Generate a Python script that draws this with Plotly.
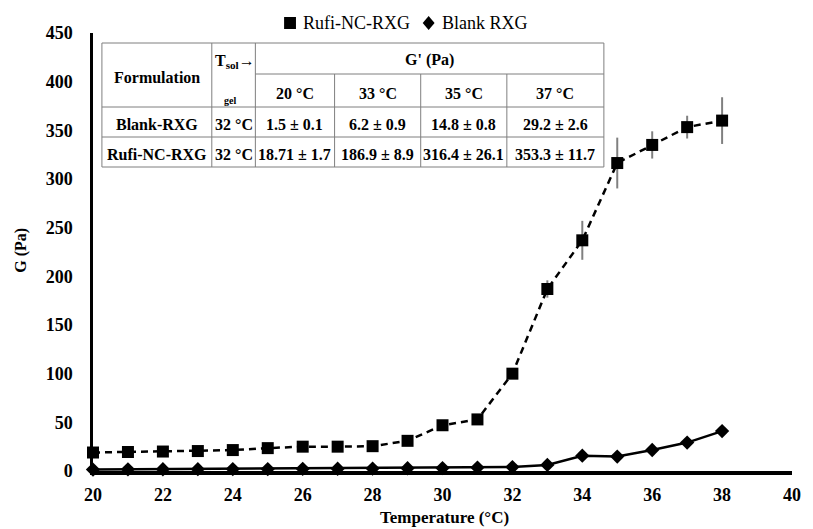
import plotly.graph_objects as go

# ---------------- data ----------------
temps = [20, 21, 22, 23, 24, 25, 26, 27, 28, 29, 30, 31, 32, 33, 34, 35, 36, 37, 38]
rufi = [19, 19.5, 20, 20.5, 21.5, 23.5, 25, 25, 25.5, 31, 47, 53, 100, 187, 237, 316.4, 335, 353.3, 360]
rufi_err = [1.7, 1, 1, 1, 1, 1.5, 1.5, 1.5, 1.5, 2, 3, 3, 5, 8.9, 20, 26.1, 14, 11.7, 24]
blank = [1.5, 1.7, 1.8, 1.9, 2, 2, 2.2, 2.3, 2.5, 2.8, 3, 3.5, 4, 6.2, 15.7, 14.8, 21.6, 29.2, 41]
blank_err = [0.1, 0.1, 0.1, 0.1, 0.1, 0.1, 0.1, 0.2, 0.2, 0.2, 0.3, 0.3, 0.4, 0.9, 1.0, 0.8, 1.5, 2.6, 3]

series_names = ["Rufi-NC-RXG", "Blank RXG"]

x_ticks = [20, 22, 24, 26, 28, 30, 32, 34, 36, 38, 40]
y_ticks = [0, 50, 100, 150, 200, 250, 300, 350, 400, 450]

table_head_top = "G' (Pa)"
table_head = ["Formulation", "T<sub>sol</sub>→", "20 °C", "33 °C", "35 °C", "37 °C"]
formulations = ["Blank-RXG", "Rufi-NC-RXG"]
tsolgel = ["32 °C", "32 °C"]
blank_table = ["1.5 ± 0.1", "6.2 ± 0.9", "14.8 ± 0.8", "29.2 ± 2.6"]
rufi_table = ["18.71 ± 1.7", "186.9 ± 8.9", "316.4 ± 26.1", "353.3 ± 11.7"]

# ---------------- figure ----------------
W, H = 813, 529
ML, MR, MT, MB = 93, 14, 33, 58
PW, PH = W - ML - MR, H - MT - MB
FONT = "Liberation Serif"


def px(x):
    return (x - ML) / PW


def py(y):
    return (H - MB - y) / PH


fig = go.Figure()

fig.add_trace(go.Scatter(
    x=temps, y=rufi, mode="lines+markers", name=series_names[0], showlegend=False,
    line=dict(color="black", width=2.5, dash="7px,5px"),
    marker=dict(symbol="square", size=12, color="black"),
    error_y=dict(type="data", array=rufi_err, color="#808080", thickness=2, width=0),
    cliponaxis=False,
))
fig.add_trace(go.Scatter(
    x=temps, y=blank, mode="lines+markers", name=series_names[1], showlegend=False,
    line=dict(color="black", width=2.5),
    marker=dict(symbol="diamond", size=11, color="black"),
    error_y=dict(type="data", array=blank_err, color="#808080", thickness=2, width=0),
    cliponaxis=False,
))

# ---------------- table ----------------
shapes = []
LC = "#7f7f7f"
cols = [102, 213, 257, 337, 424, 511, 609]
rows = [43, 74, 107, 137, 167]


def hline(x0, x1, y):
    shapes.append(dict(type="line", xref="paper", yref="paper", x0=px(x0), x1=px(x1),
                       y0=py(y), y1=py(y), line=dict(color=LC, width=1)))


def vline(x, y0, y1):
    shapes.append(dict(type="line", xref="paper", yref="paper", x0=px(x), x1=px(x),
                       y0=py(y0), y1=py(y1), line=dict(color=LC, width=1)))


shapes.append(dict(type="rect", xref="paper", yref="paper", x0=px(cols[0]), x1=px(cols[-1]),
                   y0=py(rows[0]), y1=py(rows[-1]), fillcolor="white",
                   line=dict(color=LC, width=1), layer="above"))
hline(cols[2], cols[-1], rows[1])
hline(cols[0], cols[-1], rows[2])
hline(cols[0], cols[-1], rows[3])
vline(cols[1], rows[0], rows[-1])
vline(cols[2], rows[0], rows[-1])
for c in cols[3:-1]:
    vline(c, rows[1], rows[-1])

annotations = []


def txt(x, y, s, size=16, bold=True, anchor="center"):
    annotations.append(dict(x=px(x), y=py(y), xref="paper", yref="paper", text=(f"<b>{s}</b>" if bold else s),
                            showarrow=False, xanchor=anchor, yanchor="middle",
                            font=dict(family=FONT, size=size, color="black")))


cc = [(cols[i] + cols[i + 1]) / 2 for i in range(len(cols) - 1)]
txt(cc[0], (rows[0] + rows[2]) / 2 + 2, table_head[0])
txt(cc[1] + 1, 61, table_head[1])
txt(cc[1] - 4, 100, "gel", size=10)
txt((cols[2] + cols[-1]) / 2, (rows[0] + rows[1]) / 2 + 2, table_head_top)
for i in range(4):
    txt(cc[2 + i], (rows[1] + rows[2]) / 2 + 3, table_head[2 + i])
row_vals = [blank_table, rufi_table]
for r in range(2):
    yc = (rows[2 + r] + rows[3 + r]) / 2 + 2
    txt(cc[0], yc, formulations[r])
    txt(cc[1], yc, tsolgel[r])
    for i in range(4):
        txt(cc[2 + i], yc, row_vals[r][i])

# ---------------- legend (drawn manually) ----------------
LY = 23
s = 6
shapes.append(dict(type="rect", xref="paper", yref="paper", x0=px(292 - s), x1=px(292 + s),
                   y0=py(LY - s), y1=py(LY + s), fillcolor="black", line=dict(width=0)))
dx, dy = 6, 7
shapes.append(dict(type="path", xref="paper", yref="paper",
                   path=(f"M {px(432 - dx)} {py(LY)} L {px(432)} {py(LY - dy)} "
                         f"L {px(432 + dx)} {py(LY)} L {px(432)} {py(LY + dy)} Z"),
                   fillcolor="black", line=dict(width=0)))
txt(303, LY, series_names[0], size=18, bold=False, anchor="left")
txt(443, LY, series_names[1], size=18, bold=False, anchor="left")

# axis titles
txt(448, 517, "Temperature (°C)", size=17)
annotations.append(dict(x=px(20), y=py(250), xref="paper", yref="paper", text="<b>G (Pa)</b>",
                        textangle=-90, showarrow=False, xanchor="center", yanchor="middle",
                        font=dict(family=FONT, size=16, color="black")))

fig.update_layout(
    width=W, height=H, autosize=False,
    margin=dict(l=ML, r=MR, t=MT, b=MB, pad=0),
    plot_bgcolor="white", paper_bgcolor="white",
    font=dict(family=FONT, color="black"),
    shapes=shapes, annotations=annotations,
    showlegend=False,
    xaxis=dict(range=[20, 40], tickvals=x_ticks, showgrid=False, zeroline=False,
               showline=True, linecolor="black", linewidth=3.5, ticks="",
               tickfont=dict(family=FONT, size=18, color="black", weight="bold"),
               ticklabelstandoff=5),
    yaxis=dict(range=[0, 450], tickvals=y_ticks, showgrid=False, zeroline=False,
               showline=True, linecolor="black", linewidth=2.5, ticks="",
               tickfont=dict(family=FONT, size=18, color="black", weight="bold"),
               ticklabelstandoff=14),
)

fig.write_html("out.html", config={"displayModeBar": False},
               post_script="document.body.style.margin='0';")
